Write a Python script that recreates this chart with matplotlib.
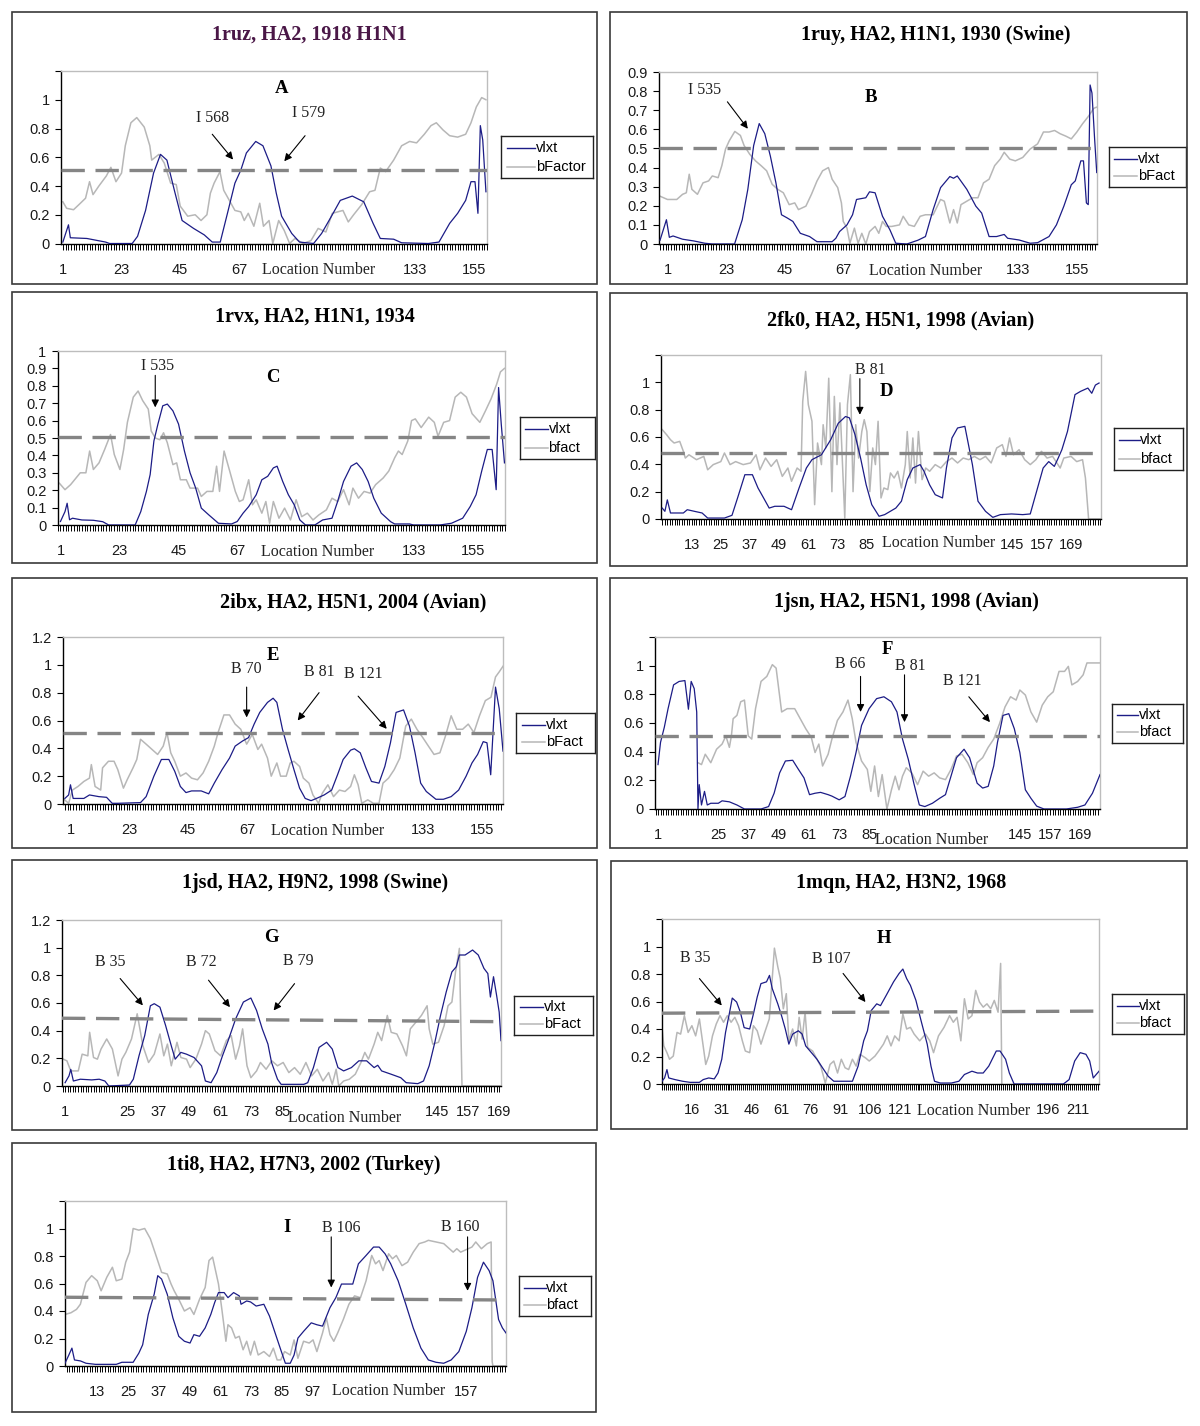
import matplotlib
matplotlib.use("Agg")
import matplotlib.pyplot as plt
from matplotlib.patches import Rectangle
from matplotlib.ticker import MultipleLocator, FixedLocator

# ---------------- datos ----------------
# Panel A: 1ruz
A_vlxt_x = [1, 3.1, 3.8, 10, 17, 18.5, 27, 29, 32, 35, 37.6, 40, 42.8, 45.7, 50, 54, 57, 60, 62.7, 65.5, 67.7, 69.8, 73.3, 76, 79, 81, 83, 86.8, 89.7, 95, 98, 101.7, 105, 109.5, 113.8, 117.3, 120, 125, 128, 138, 142, 146, 149, 152, 154, 155.5, 156.6, 157.5, 158.4, 159.6]
A_vlxt_y = [0.01, 0.13, 0.04, 0.035, 0.01, 0, 0, 0.05, 0.23, 0.49, 0.62, 0.58, 0.37, 0.16, 0.105, 0.06, 0.01, 0.01, 0.21, 0.42, 0.51, 0.63, 0.71, 0.68, 0.54, 0.35, 0.19, 0.07, 0.01, 0, 0.07, 0.19, 0.30, 0.33, 0.29, 0.14, 0.035, 0.03, 0.005, 0, 0.01, 0.14, 0.21, 0.30, 0.43, 0.43, 0.21, 0.82, 0.72, 0.36]
A_bf_x = [1, 2.4, 5, 7, 9.5, 11, 12.3, 14.5, 17.3, 19, 20.9, 23, 24.4, 26.5, 28.7, 31.5, 33.6, 34.3, 37, 39, 41.4, 43.5, 45, 47.8, 50.6, 52.8, 55, 56.3, 57.7, 59.9, 61.3, 63.4, 65.5, 67.7, 69, 70.5, 72.6, 74.8, 76.2, 78.3, 79.7, 81.9, 84, 86, 88, 91, 94, 96.7, 99.6, 102, 106, 108, 110, 113, 116, 118, 120, 122, 125, 128, 131, 133.6, 136.5, 139, 141, 143.5, 146, 149, 152, 154, 156, 158, 159.6]
A_bf_y = [0.29, 0.245, 0.235, 0.27, 0.315, 0.43, 0.34, 0.40, 0.47, 0.53, 0.43, 0.49, 0.68, 0.84, 0.876, 0.81, 0.68, 0.58, 0.62, 0.56, 0.42, 0.41, 0.26, 0.19, 0.20, 0.16, 0.20, 0.35, 0.42, 0.50, 0.37, 0.30, 0.23, 0.22, 0.16, 0.21, 0.12, 0.28, 0.12, 0.16, 0.0, 0.16, 0.09, 0.0, 0.035, 0, 0.02, 0.105, 0.08, 0.21, 0.23, 0.15, 0.20, 0.27, 0.36, 0.37, 0.525, 0.50, 0.58, 0.68, 0.71, 0.70, 0.76, 0.82, 0.84, 0.79, 0.75, 0.74, 0.76, 0.84, 0.95, 1.015, 1.0]

# Panel B: 1ruy
B_vlxt_x = [-2.1, 0.3, 1.4, 2.8, 6.4, 10.6, 14.8, 17.6, 26, 28.9, 31, 33.2, 35.3, 37.4, 39.5, 41.6, 43.7, 45.9, 48, 50.8, 54.3, 57.1, 62.8, 64.2, 65.6, 68.4, 70.5, 72, 75.5, 76.9, 79, 81.8, 84.6, 86.8, 91, 95.2, 98, 100.9, 103.7, 107.2, 108.6, 110, 113.6, 117, 119.2, 122, 124.8, 127.7, 129, 133.3, 137.5, 140.3, 144.6, 147.4, 150.2, 153, 154.5, 156.6, 157.6, 158.7, 159.4, 160.1, 160.8, 161.8, 162.6]
B_vlxt_y = [0.02, 0.127, 0.035, 0.042, 0.025, 0.016, 0.004, 0, 0, 0.127, 0.286, 0.515, 0.63, 0.577, 0.46, 0.32, 0.153, 0.136, 0.118, 0.056, 0.039, 0.012, 0.012, 0.03, 0.065, 0.10, 0.153, 0.233, 0.242, 0.273, 0.268, 0.145, 0.074, 0.004, 0, 0.02, 0.039, 0.18, 0.295, 0.353, 0.344, 0.356, 0.286, 0.198, 0.162, 0.039, 0.039, 0.05, 0.03, 0.021, 0.004, 0.007, 0.039, 0.10, 0.198, 0.31, 0.33, 0.435, 0.435, 0.215, 0.206, 0.832, 0.79, 0.55, 0.374]
B_bf_x = [-2.1, 0.7, 4.2, 6.4, 7.8, 8.9, 9.9, 12, 14.1, 16.2, 17.6, 19.8, 21.2, 22.6, 24, 26.1, 28.2, 29.6, 31.7, 33.9, 36, 38.1, 40.2, 42.3, 44.4, 46.6, 48.7, 50.1, 52.9, 55, 57.1, 59.2, 61.4, 62.8, 64.9, 66.3, 67, 68.4, 69.5, 71.2, 72.6, 74, 75.5, 76.9, 79, 80.4, 81.8, 83.2, 85.3, 88.2, 89.6, 91.7, 93.8, 96, 98, 100.9, 103.7, 105.1, 107.2, 108.6, 110, 111.4, 113.6, 115.8, 117.8, 119.9, 122, 124.1, 126.2, 127.7, 129.8, 131.9, 134.7, 137.5, 140.3, 142.5, 144.6, 146.7, 148.8, 151, 153, 155.1, 157.3, 159.3, 161.5, 162.9]
B_bf_y = [0.25, 0.233, 0.233, 0.26, 0.268, 0.365, 0.286, 0.26, 0.32, 0.33, 0.356, 0.347, 0.41, 0.497, 0.54, 0.589, 0.568, 0.515, 0.47, 0.435, 0.41, 0.383, 0.312, 0.286, 0.268, 0.206, 0.215, 0.18, 0.198, 0.26, 0.33, 0.383, 0.40, 0.339, 0.295, 0.215, 0.118, 0.083, 0.004, 0.083, 0.004, 0.056, 0, 0.065, 0.092, 0.056, 0.118, 0.092, 0.092, 0.10, 0.145, 0.10, 0.092, 0.145, 0.153, 0.153, 0.233, 0.224, 0.11, 0.18, 0.11, 0.206, 0.224, 0.242, 0.242, 0.32, 0.339, 0.41, 0.444, 0.48, 0.444, 0.435, 0.453, 0.497, 0.524, 0.586, 0.586, 0.594, 0.577, 0.564, 0.55, 0.586, 0.63, 0.665, 0.71, 0.718]

# Panel C: 1rvx
C_vlxt_x = [1, 2.7, 3.5, 4.4, 5.5, 9, 13.3, 16.8, 19, 28.9, 31, 33.1, 34.5, 35.9, 37.4, 39.2, 40.9, 43, 45.1, 47.3, 49.4, 51.5, 53.6, 56.4, 60, 64.9, 67, 69.2, 71.3, 74.1, 76.2, 78.4, 80.5, 81.9, 84, 86.1, 88.3, 90.4, 92.5, 96, 98.9, 102.4, 104.5, 106.7, 109.5, 111.6, 113.7, 115.9, 118, 120.8, 124.3, 125.8, 131.4, 132.8, 142.7, 147, 151.2, 154, 156.2, 158.3, 160.4, 162.2, 163.7, 164.6, 165.6, 166.8]
C_vlxt_y = [0.02, 0.077, 0.125, 0.03, 0.039, 0.029, 0.027, 0.019, 0, 0, 0.077, 0.193, 0.29, 0.483, 0.58, 0.685, 0.695, 0.656, 0.58, 0.425, 0.30, 0.212, 0.097, 0.058, 0.01, 0.006, 0.02, 0.068, 0.106, 0.174, 0.26, 0.28, 0.328, 0.338, 0.25, 0.174, 0.116, 0.029, 0, 0, 0.029, 0.039, 0.135, 0.25, 0.338, 0.357, 0.319, 0.25, 0.154, 0.068, 0.019, 0.006, 0.006, 0, 0, 0.01, 0.039, 0.106, 0.174, 0.31, 0.434, 0.434, 0.203, 0.79, 0.58, 0.357]
C_bf_x = [0.6, 2.7, 4.8, 8.4, 10.5, 11.9, 13.3, 15.4, 17.5, 19.7, 21.1, 23.2, 24.6, 26, 28.2, 30, 31.7, 33.8, 34.9, 36.4, 38.1, 39.5, 40.9, 43, 44.4, 45.8, 48, 49.4, 52.2, 53.6, 55.7, 57.9, 59.3, 60.4, 62.1, 64.2, 66.3, 67.8, 69.2, 71.3, 72.7, 74.1, 76.2, 77.7, 79.1, 80.5, 82.6, 84.7, 86.9, 89, 91.1, 93.2, 95.3, 97.5, 100.3, 102.4, 104.5, 106.7, 108.8, 110.2, 112.3, 114.4, 116.6, 118.7, 121.5, 123.6, 125.8, 127.2, 128.6, 130.7, 132.1, 133.5, 135.7, 138.5, 140.6, 142, 144.1, 146.3, 148.4, 150.5, 152.6, 154.7, 157.6, 159.7, 161.8, 163.9, 165.3, 166.8]
C_bf_y = [0.24, 0.203, 0.232, 0.30, 0.30, 0.425, 0.319, 0.357, 0.434, 0.52, 0.405, 0.319, 0.434, 0.59, 0.735, 0.77, 0.715, 0.666, 0.54, 0.50, 0.49, 0.53, 0.473, 0.347, 0.357, 0.26, 0.26, 0.212, 0.212, 0.164, 0.193, 0.193, 0.338, 0.193, 0.425, 0.31, 0.193, 0.135, 0.145, 0.26, 0.116, 0.145, 0.068, 0.135, 0.01, 0.135, 0.039, 0.097, 0.029, 0.145, 0.048, 0.068, 0.029, 0.058, 0.087, 0.154, 0.135, 0.203, 0.116, 0.212, 0.154, 0.193, 0.183, 0.232, 0.27, 0.31, 0.386, 0.425, 0.405, 0.483, 0.60, 0.61, 0.56, 0.62, 0.59, 0.51, 0.59, 0.60, 0.735, 0.763, 0.735, 0.64, 0.59, 0.656, 0.725, 0.81, 0.88, 0.90]

# Panel D: 2fk0
D_vlxt_x = [0.9, 2, 3, 4.3, 7.3, 9.6, 11.2, 14.2, 17.3, 19.6, 21.9, 26.5, 29.6, 31.9, 34.9, 38, 40.3, 42.6, 44.9, 47.2, 51, 54.1, 57.2, 60.2, 62.5, 66.4, 70.2, 73.3, 76.3, 77.9, 80.2, 82.5, 84.8, 87.1, 90.1, 92.4, 97, 99.3, 101.7, 104, 107, 108.6, 110.9, 113.2, 116.2, 117.8, 120.1, 122.4, 125.4, 128.5, 130.8, 133.9, 136.9, 140, 144.6, 149.2, 152.3, 155.3, 157.6, 159.9, 162.2, 163.8, 165.3, 167.6, 170.7, 173, 176, 177.6, 179.1, 180.6]
D_vlxt_y = [0.08, 0.056, 0.14, 0.044, 0.044, 0.044, 0.068, 0.056, 0.044, 0.007, 0.007, 0.007, 0.027, 0.154, 0.324, 0.324, 0.227, 0.154, 0.08, 0.093, 0.093, 0.068, 0.227, 0.373, 0.434, 0.47, 0.58, 0.70, 0.75, 0.74, 0.617, 0.446, 0.25, 0.105, 0.02, 0.032, 0.08, 0.13, 0.288, 0.373, 0.398, 0.349, 0.25, 0.178, 0.154, 0.373, 0.593, 0.666, 0.678, 0.398, 0.13, 0.056, 0.012, 0.032, 0.037, 0.032, 0.037, 0.227, 0.373, 0.42, 0.385, 0.446, 0.507, 0.64, 0.91, 0.934, 0.958, 0.92, 0.98, 0.995]
D_bf_x = [0.9, 2.7, 4.3, 5.8, 8.1, 9.6, 10.4, 11.9, 15, 18, 19.6, 21.9, 25, 26.5, 28.8, 31.1, 34.2, 37.2, 39.5, 41.1, 43.4, 45.7, 48, 50.3, 52.6, 54.1, 56.4, 58, 58.7, 59.9, 61, 62.5, 63.6, 64.8, 66.4, 67.1, 68.2, 69.4, 70.7, 71.7, 72.8, 74, 75.3, 76, 77.1, 78.3, 79.4, 80.5, 81.7, 83, 84, 85.1, 86.3, 87.5, 88.6, 89.7, 90.9, 92.1, 93.7, 94.8, 96.3, 97.8, 99.3, 100.9, 101.7, 102.9, 104, 105.1, 106.3, 107.8, 109.3, 110.9, 113.2, 115.5, 117.8, 120.1, 122.4, 124.7, 127, 129.3, 131.6, 133.9, 136.2, 138.5, 140.8, 142.3, 143.8, 145.4, 147.7, 150, 152.3, 154.6, 156.9, 159.2, 161.5, 164.6, 166.1, 169.1, 171.4, 173.8, 175, 176.3, 181.4]
D_bf_y = [0.654, 0.617, 0.58, 0.556, 0.568, 0.495, 0.446, 0.47, 0.434, 0.458, 0.36, 0.398, 0.42, 0.483, 0.398, 0.42, 0.398, 0.41, 0.47, 0.36, 0.446, 0.385, 0.434, 0.312, 0.373, 0.276, 0.373, 0.349, 0.86, 1.08, 0.837, 0.715, 0.105, 0.556, 0.398, 0.69, 0.52, 1.03, 0.2, 0.897, 0.398, 0.85, 0.30, 0.007, 0.837, 1.056, 0.2, 0.69, 0.446, 0.64, 0.727, 0.64, 0.2, 0.52, 0.398, 0.715, 0.154, 0.227, 0.215, 0.337, 0.30, 0.349, 0.227, 0.398, 0.64, 0.30, 0.593, 0.263, 0.64, 0.288, 0.373, 0.349, 0.398, 0.373, 0.42, 0.446, 0.41, 0.446, 0.434, 0.458, 0.434, 0.458, 0.41, 0.52, 0.544, 0.458, 0.593, 0.47, 0.507, 0.434, 0.398, 0.434, 0.495, 0.446, 0.458, 0.373, 0.446, 0.458, 0.42, 0.434, 0.30, 0, 0]

# Panel E: 2ibx
E_vlxt_x = [-1.1, 0.3, 1, 2, 6, 8.1, 11.6, 14.5, 16.6, 18.7, 27.2, 29.3, 32.2, 35, 37.8, 40, 42.1, 44.2, 46.3, 49.9, 52.7, 54.8, 57.7, 60.5, 62.6, 65.4, 67.6, 69.7, 71.8, 74.7, 76.8, 78.2, 80.3, 82.4, 84.6, 86.7, 88.8, 91, 93, 95.9, 98.7, 100.9, 103, 105.8, 107.2, 109.4, 111.5, 113.6, 116.4, 118.6, 120.7, 122.8, 125.6, 127.8, 129.9, 132, 134.1, 137.7, 140.5, 143.4, 146.2, 149, 151.2, 153.3, 155.4, 156.8, 158.2, 160, 161.4, 162.8]
E_vlxt_y = [0.04, 0.065, 0.138, 0.04, 0.04, 0.065, 0.053, 0.048, 0.005, 0.005, 0.01, 0.053, 0.2, 0.32, 0.32, 0.235, 0.126, 0.082, 0.094, 0.094, 0.073, 0.15, 0.247, 0.33, 0.416, 0.453, 0.477, 0.574, 0.658, 0.73, 0.76, 0.73, 0.537, 0.392, 0.247, 0.114, 0.04, 0.024, 0.04, 0.065, 0.1, 0.21, 0.32, 0.387, 0.397, 0.368, 0.26, 0.162, 0.15, 0.27, 0.44, 0.658, 0.676, 0.56, 0.368, 0.15, 0.09, 0.034, 0.034, 0.053, 0.1, 0.2, 0.295, 0.356, 0.448, 0.44, 0.21, 0.84, 0.683, 0.38]
E_bf_x = [-1.8, 0.3, 1.7, 3.8, 6, 8.1, 8.8, 10.2, 12.3, 13, 15.2, 17.3, 18.7, 20.8, 22.2, 24.4, 25.8, 27.2, 29.3, 31.5, 33.6, 35.7, 37.1, 38.5, 40, 42.1, 44.2, 46.3, 48.5, 50.6, 52.7, 54.8, 56.2, 58.4, 60.5, 62.6, 64.7, 66.9, 69, 71.1, 72.5, 74.7, 76.1, 78.2, 79.6, 81.7, 83.2, 84.6, 86.7, 88.1, 90.2, 91.7, 93.8, 95.2, 97.3, 99.4, 101.6, 103.7, 105.8, 107.2, 108.6, 110, 112.2, 114.3, 116.4, 117.9, 120, 122.1, 124.2, 126.4, 128.5, 130.6, 132.8, 134.9, 137, 139.2, 141.3, 143.4, 145.5, 147.7, 149.8, 151.9, 154, 156.2, 158.3, 160, 161.4, 163.1]
E_bf_y = [0.04, 0.005, 0.1, 0.126, 0.162, 0.186, 0.283, 0.126, 0.1, 0.26, 0.307, 0.307, 0.247, 0.114, 0.174, 0.26, 0.32, 0.465, 0.43, 0.392, 0.356, 0.416, 0.513, 0.368, 0.307, 0.2, 0.223, 0.186, 0.174, 0.223, 0.307, 0.416, 0.513, 0.64, 0.64, 0.574, 0.537, 0.43, 0.5, 0.392, 0.43, 0.33, 0.2, 0.295, 0.2, 0.2, 0.295, 0.307, 0.27, 0.186, 0.15, 0.065, 0.005, 0.077, 0.138, 0.053, 0.1, 0.09, 0.126, 0.21, 0.138, 0.005, 0.03, 0.005, 0.005, 0.15, 0.186, 0.247, 0.33, 0.56, 0.61, 0.537, 0.477, 0.416, 0.356, 0.368, 0.49, 0.634, 0.537, 0.537, 0.574, 0.513, 0.634, 0.743, 0.767, 0.913, 0.95, 0.998]

# Panel F: 1jsn
F_vlxt_x = [1, 2, 3.5, 5, 7.2, 9.4, 11.7, 13.1, 14.2, 15.4, 16.4, 16.9, 17.4, 18.3, 19.5, 20.6, 22, 25, 26.5, 29.4, 32.4, 35.4, 42, 45, 47.2, 49.4, 51.7, 54.6, 56.9, 59.1, 61.3, 63.5, 65.7, 68.7, 70.2, 73.1, 75.4, 77.6, 79.8, 82, 85, 88, 90.9, 93.9, 96.1, 98.3, 100.6, 102.8, 105, 107.2, 110.2, 113.1, 115.4, 117.6, 119.8, 122.8, 125, 128, 130.2, 132.4, 134.6, 136.1, 138.3, 140.6, 142.8, 145, 147.2, 149.4, 151.7, 154.6, 163.5, 168, 170.9, 173.9, 176.9]
F_vlxt_y = [0.31, 0.465, 0.57, 0.70, 0.866, 0.89, 0.896, 0.696, 0.89, 0.84, 0.677, 0, 0.17, 0.028, 0.123, 0.028, 0.04, 0.04, 0.057, 0.05, 0.028, 0, 0, 0.017, 0.11, 0.252, 0.335, 0.34, 0.276, 0.217, 0.1, 0.11, 0.116, 0.1, 0.09, 0.064, 0.087, 0.229, 0.394, 0.583, 0.70, 0.77, 0.783, 0.748, 0.677, 0.488, 0.347, 0.18, 0.028, 0.017, 0.04, 0.075, 0.1, 0.229, 0.358, 0.417, 0.358, 0.18, 0.146, 0.158, 0.3, 0.465, 0.653, 0.665, 0.56, 0.394, 0.134, 0.075, 0.02, 0, 0, 0.012, 0.028, 0.11, 0.24]
F_bf_x = [16.9, 18.3, 19.8, 22, 24.3, 26.5, 28, 29.4, 30.2, 30.9, 32.4, 33.9, 35.4, 36.9, 38.3, 39.8, 42, 44.3, 46.5, 48, 50.2, 52.4, 55.4, 57.6, 59.8, 62, 63.5, 65, 66.5, 68.7, 70.2, 72.4, 74.6, 76.6, 78.3, 79.8, 82, 84.3, 85.7, 87.2, 88.7, 90.2, 92.1, 93.9, 95.4, 96.9, 98.3, 99.8, 102, 104.3, 106.5, 108.7, 110.9, 113.1, 115.4, 117.6, 119.8, 122, 124.3, 126.5, 128, 130.2, 132.4, 134.6, 136.9, 139.1, 141.3, 143.5, 145, 147.2, 149.4, 151.7, 153.9, 156.1, 158.3, 160.6, 162.8, 164.3, 165.7, 168, 170.2, 171.7, 176.9]
F_bf_y = [0.323, 0.31, 0.382, 0.323, 0.417, 0.453, 0.51, 0.43, 0.51, 0.63, 0.653, 0.748, 0.76, 0.51, 0.488, 0.7, 0.89, 0.925, 1.007, 0.983, 0.677, 0.70, 0.70, 0.63, 0.56, 0.5, 0.394, 0.453, 0.3, 0.382, 0.488, 0.618, 0.677, 0.76, 0.63, 0.465, 0.335, 0.276, 0.123, 0.3, 0.087, 0.24, 0, 0.134, 0.229, 0.134, 0.229, 0.288, 0.252, 0.17, 0.264, 0.229, 0.252, 0.217, 0.205, 0.276, 0.37, 0.382, 0.323, 0.24, 0.323, 0.358, 0.43, 0.488, 0.594, 0.712, 0.783, 0.76, 0.83, 0.795, 0.677, 0.606, 0.724, 0.783, 0.818, 0.96, 0.96, 0.995, 0.866, 0.89, 0.936, 1.019, 1.019]

# Panel G: 1jsd
G_vlxt_x = [1, 2.5, 3.2, 4.2, 6.9, 11.3, 14.2, 16.4, 17.9, 25.9, 27.4, 29.6, 31.8, 34, 35.5, 37.7, 39.9, 42.1, 43.6, 45.8, 48, 50.9, 53.8, 55.3, 57.5, 59.7, 61.9, 64.1, 67, 70, 72.9, 75.1, 77.3, 79.5, 80.9, 83.2, 84.6, 89, 93.4, 94.9, 97.1, 99.3, 102.2, 104.4, 106.6, 108.8, 111.8, 114.7, 117.7, 120.6, 122, 123.5, 127.2, 130.9, 133, 137.5, 139.7, 141.9, 144.1, 146.3, 148.5, 150.7, 152.4, 153.6, 155.8, 158.7, 160.9, 163.1, 164.6, 165.6, 166.8, 168, 169, 169.7]
G_vlxt_y = [0.024, 0.073, 0.12, 0.036, 0.049, 0.044, 0.049, 0.036, 0, 0.007, 0.049, 0.218, 0.364, 0.58, 0.595, 0.57, 0.437, 0.29, 0.194, 0.243, 0.23, 0.206, 0.146, 0.036, 0.024, 0.097, 0.218, 0.328, 0.485, 0.607, 0.636, 0.546, 0.413, 0.303, 0.17, 0.049, 0.012, 0.012, 0.012, 0.024, 0.133, 0.279, 0.316, 0.267, 0.133, 0.109, 0.133, 0.182, 0.182, 0.133, 0.15, 0.109, 0.085, 0.06, 0.024, 0.017, 0.036, 0.146, 0.316, 0.51, 0.68, 0.825, 0.862, 0.947, 0.947, 0.983, 0.947, 0.85, 0.813, 0.643, 0.79, 0.655, 0.534, 0.328]
G_bf_x = [0.3, 1.7, 3.2, 6.1, 7.6, 9.8, 10.5, 12, 13.5, 14.9, 17.1, 19.3, 21.5, 23, 24.5, 26.7, 28.9, 31.1, 33.3, 35.5, 37.7, 39.2, 40.6, 42.1, 44.3, 45.8, 48, 49.4, 51.6, 53.8, 55.3, 56.8, 59, 61.2, 63.4, 65.3, 67, 68.5, 69.7, 71.4, 72.9, 75.1, 76.6, 78.8, 81, 83.2, 85.4, 87.6, 89.8, 92, 94.2, 96.4, 98.6, 100.8, 103, 104.4, 105.9, 106.9, 108.8, 111, 113.3, 115.5, 117, 118.4, 120.6, 122, 123.5, 125.7, 127.2, 129.4, 131.6, 133.1, 134.6, 136.7, 138.9, 141.1, 141.9, 143.3, 145.5, 147.7, 149.2, 150.7, 152.1, 153.6, 154.6, 169.7]
G_bf_y = [0.194, 0.182, 0.109, 0.109, 0.23, 0.218, 0.388, 0.206, 0.194, 0.267, 0.34, 0.267, 0.073, 0.194, 0.243, 0.34, 0.522, 0.291, 0.17, 0.23, 0.376, 0.218, 0.303, 0.146, 0.316, 0.206, 0.194, 0.133, 0.194, 0.303, 0.4, 0.376, 0.255, 0.218, 0.328, 0.364, 0.194, 0.29, 0.413, 0.146, 0.06, 0.109, 0.17, 0.121, 0.182, 0.146, 0.17, 0.097, 0.133, 0.085, 0.17, 0.073, 0.121, 0.036, 0.097, 0.012, 0.121, 0, 0.036, 0.049, 0.085, 0.17, 0.243, 0.194, 0.303, 0.388, 0.328, 0.51, 0.388, 0.376, 0.29, 0.218, 0.413, 0.46, 0.51, 0.58, 0.413, 0.303, 0.316, 0.437, 0.58, 0.607, 0.825, 0.995, 0, 0]

# Panel H: 1mqn
H_vlxt_x = [0.9, 2.2, 3.4, 4.3, 7.5, 11.3, 15.1, 19.8, 21.7, 24.5, 27.3, 29.2, 31.1, 33, 34.9, 36.4, 38.6, 40.5, 42.4, 45.2, 47.1, 49, 50.9, 53.7, 55.2, 56.6, 59.4, 61.3, 63.2, 65, 66.9, 69.8, 71.7, 73.5, 76.4, 79.2, 82, 84.9, 87.7, 92.4, 97.1, 100, 102.8, 104.7, 106.6, 109.4, 111.3, 114.2, 117.9, 120.7, 122.6, 124.5, 126.4, 129.2, 132, 134.9, 136.8, 138.6, 141.5, 147.1, 150.9, 153.7, 157.5, 160.3, 163.2, 166, 169.8, 171.7, 174.5, 176.4, 178.8, 203.7, 206.6, 209.4, 212.2, 215.1, 217, 218.8, 221.7]
H_vlxt_y = [0.02, 0.044, 0.105, 0.044, 0.032, 0.02, 0.012, 0.012, 0.032, 0.044, 0.037, 0.08, 0.18, 0.375, 0.51, 0.625, 0.596, 0.522, 0.41, 0.4, 0.51, 0.632, 0.73, 0.743, 0.79, 0.694, 0.583, 0.497, 0.4, 0.29, 0.363, 0.387, 0.363, 0.277, 0.228, 0.18, 0.118, 0.056, 0.02, 0.02, 0.02, 0.13, 0.314, 0.387, 0.534, 0.583, 0.57, 0.645, 0.743, 0.804, 0.836, 0.767, 0.718, 0.608, 0.449, 0.29, 0.13, 0.02, 0.007, 0.007, 0.02, 0.069, 0.093, 0.08, 0.08, 0.13, 0.24, 0.24, 0.18, 0.08, 0, 0, 0.032, 0.167, 0.228, 0.216, 0.167, 0.044, 0.093]
H_bf_x = [0.9, 1.8, 3.4, 4.7, 6.6, 8.5, 10.3, 12.2, 14.1, 16, 17.9, 19.8, 21.7, 23, 24.5, 26.4, 28.3, 30.2, 32, 33.9, 35.8, 37.7, 39.6, 41.5, 43, 45.2, 47.1, 49, 50.9, 52.8, 55.1, 56.6, 57.7, 59.4, 60.7, 62.2, 63.7, 65, 66.9, 68.8, 70.2, 71.7, 73.2, 74.5, 77, 79.2, 81.1, 83.4, 85.8, 87.7, 89.6, 91.5, 93.4, 95.2, 97.1, 99, 100.9, 103.7, 105.6, 108.5, 110.4, 112.8, 114.7, 116.6, 118.5, 120.7, 122.6, 124.5, 126.4, 128.3, 131.1, 134, 136.2, 138.1, 140.6, 143.4, 146.2, 148.1, 150, 151.9, 153.7, 155.6, 157.5, 159.4, 161.3, 163.2, 165.1, 167, 168.8, 170.7, 172, 172.6]
H_bf_y = [0.41, 0.277, 0.228, 0.18, 0.203, 0.375, 0.363, 0.497, 0.375, 0.424, 0.35, 0.473, 0.277, 0.142, 0.203, 0.35, 0.436, 0.497, 0.449, 0.497, 0.449, 0.485, 0.424, 0.314, 0.24, 0.228, 0.424, 0.387, 0.29, 0.375, 0.473, 0.767, 0.988, 0.853, 0.767, 0.547, 0.657, 0.314, 0.4, 0.277, 0.485, 0.326, 0.522, 0.265, 0.24, 0.18, 0.13, 0.007, 0.142, 0.167, 0.08, 0.18, 0.118, 0.105, 0.18, 0.13, 0.216, 0.19, 0.167, 0.203, 0.24, 0.29, 0.35, 0.277, 0.35, 0.314, 0.51, 0.4, 0.412, 0.363, 0.314, 0.363, 0.314, 0.228, 0.35, 0.412, 0.497, 0.449, 0.485, 0.314, 0.62, 0.473, 0.497, 0.681, 0.596, 0.559, 0.583, 0.547, 0.608, 0.522, 0.877, 0]

# Panel I: 1ti8
I_vlxt_x = [0.4, 1.9, 3.1, 4.1, 6.4, 8.6, 12.3, 15.2, 18.2, 20.4, 22.6, 27, 29.2, 30.7, 32.9, 35.2, 36.6, 38.1, 40.3, 42.5, 44.8, 47, 49.2, 50.7, 52.9, 55.1, 57.3, 58.8, 60.3, 62.5, 64, 66.2, 68.4, 69.1, 71.3, 72.8, 75, 78, 80.2, 82.4, 84.6, 86.4, 88.3, 89.8, 91.3, 93.5, 96.5, 98.7, 100.9, 103.8, 106.1, 108.3, 110.5, 112.7, 114.9, 117.9, 120.8, 123, 125.3, 127.5, 130.4, 133.4, 136.3, 139.3, 142.2, 145.2, 148.2, 151.1, 154.1, 157, 159.2, 161.4, 163.7, 165.9, 167.4, 169.6, 171.1, 172.5]
I_vlxt_y = [0.02, 0.08, 0.13, 0.044, 0.037, 0.02, 0.012, 0.012, 0.012, 0.012, 0.027, 0.027, 0.093, 0.154, 0.375, 0.522, 0.657, 0.632, 0.522, 0.35, 0.216, 0.18, 0.167, 0.228, 0.216, 0.277, 0.375, 0.461, 0.534, 0.534, 0.497, 0.534, 0.51, 0.449, 0.473, 0.466, 0.436, 0.449, 0.363, 0.24, 0.118, 0.02, 0.02, 0.08, 0.203, 0.252, 0.314, 0.3, 0.29, 0.424, 0.497, 0.596, 0.596, 0.596, 0.743, 0.804, 0.865, 0.865, 0.816, 0.743, 0.62, 0.449, 0.277, 0.13, 0.044, 0.027, 0.02, 0.044, 0.105, 0.252, 0.424, 0.645, 0.755, 0.694, 0.62, 0.338, 0.277, 0.24]
I_bf_x = [0.4, 2.7, 4.9, 6.4, 8.6, 10.8, 13, 14.5, 16.7, 18.9, 20.4, 22.6, 24.1, 25.6, 27, 29.2, 31.5, 33.7, 35.9, 38.1, 40.3, 41.8, 43, 44.8, 47, 49.2, 50.7, 52.9, 55.1, 56.6, 58, 60.3, 61.7, 63.2, 64, 65.4, 66.9, 68.4, 69.9, 71.3, 72.8, 74.3, 75.8, 78, 80.2, 81.7, 83.2, 84.6, 86.1, 88.3, 89.8, 91.3, 93.5, 95.7, 97.2, 98.7, 100.9, 102.4, 103.8, 105.3, 106.8, 109, 111.2, 113.4, 115.7, 117.9, 120.1, 121.6, 123, 124.5, 126.7, 128.2, 129.7, 131.9, 134.1, 136.3, 138.6, 140.8, 142.2, 145.2, 148.2, 150.4, 151.9, 153.3, 154.8, 159.2, 160.7, 162.9, 165.2, 166.7, 167.1, 167.4, 172.5]
I_bf_y = [0.375, 0.387, 0.412, 0.449, 0.608, 0.657, 0.62, 0.547, 0.645, 0.718, 0.62, 0.632, 0.755, 0.828, 1.0, 0.988, 1.0, 0.926, 0.804, 0.681, 0.669, 0.596, 0.547, 0.485, 0.4, 0.424, 0.375, 0.485, 0.571, 0.767, 0.792, 0.596, 0.4, 0.18, 0.3, 0.277, 0.203, 0.216, 0.118, 0.18, 0.08, 0.18, 0.08, 0.105, 0.069, 0.13, 0.044, 0.044, 0.105, 0.08, 0.19, 0.056, 0.18, 0.167, 0.19, 0.105, 0.24, 0.35, 0.228, 0.18, 0.24, 0.338, 0.449, 0.51, 0.497, 0.62, 0.804, 0.743, 0.767, 0.694, 0.816, 0.78, 0.804, 0.73, 0.755, 0.828, 0.89, 0.902, 0.914, 0.902, 0.89, 0.853, 0.828, 0.853, 0.828, 0.865, 0.902, 0.853, 0.89, 0.902, 0.032, 0, 0]

titles = ["1ruz, HA2, 1918 H1N1", "1ruy, HA2, H1N1, 1930 (Swine)", "1rvx, HA2, H1N1, 1934",
          "2fk0, HA2, H5N1, 1998 (Avian)", "2ibx, HA2, H5N1, 2004 (Avian)", "1jsn, HA2, H5N1, 1998 (Avian)",
          "1jsd, HA2, H9N2, 1998 (Swine)", "1mqn, HA2, H3N2, 1968", "1ti8, HA2, H7N3, 2002 (Turkey)"]
letters = ["A", "B", "C", "D", "E", "F", "G", "H", "I"]
bf_names = ["bFactor", "bFact", "bfact", "bfact", "bFact", "bfact", "bFact", "bfact", "bfact"]
thresholds = [(0.51, 0.51), (0.5, 0.5), (0.505, 0.505), (0.48, 0.48), (0.51, 0.51),
              (0.51, 0.51), (0.49, 0.465), (0.515, 0.53), (0.5, 0.48)]
xtick_labels = [[1, 23, 45, 67, 133, 155], [1, 23, 45, 67, 133, 155], [1, 23, 45, 67, 133, 155],
                [13, 25, 37, 49, 61, 73, 85, 145, 157, 169], [1, 23, 45, 67, 133, 155],
                [1, 25, 37, 49, 61, 73, 85, 145, 157, 169], [1, 25, 37, 49, 61, 73, 85, 145, 157, 169],
                [16, 31, 46, 61, 76, 91, 106, 121, 196, 211], [13, 25, 37, 49, 61, 73, 85, 97, 157]]
# marcas de residuos: (texto, posicion del texto, inicio flecha, punta flecha)
marks = [
    [("I 568", (57, 0.876), (57, 0.76), (64.8, 0.584)), ("I 579", (93.2, 0.91), (91.8, 0.75), (84, 0.572))],
    [("I 535", (14.8, 0.806), (23.3, 0.744), (31, 0.603))],
    [("I 535", (37.4, 0.914), (36.4, 0.86), (36.4, 0.676))],
    [("B 81", (86.3, 1.093), (82.2, 1.027), (82.2, 0.763))],
    [("B 70", (66.9, 0.968), (66.9, 0.84), (66.9, 0.622)), ("B 81", (94, 0.949), (94, 0.8), (86, 0.6)),
     ("B 121", (110.5, 0.936), (108.6, 0.775), (119.3, 0.54))],
    [("B 66", (77.6, 1.01), (81.6, 0.925), (81.6, 0.677)), ("B 81", (101.6, 0.995), (99.1, 0.936), (99.1, 0.606)),
     ("B 121", (122, 0.894), (124.7, 0.783), (133.1, 0.606))],
    [("B 35", (18.3, 0.898), (22.3, 0.777), (31.1, 0.583)), ("B 72", (53.8, 0.893), (56.5, 0.765), (64.8, 0.57)),
     ("B 79", (91.2, 0.903), (89.8, 0.74), (81.7, 0.546))],
    [("B 35", (17.5, 0.92), (19.8, 0.767), (31.1, 0.571)), ("B 107", (86.4, 0.907), (92.4, 0.804), (103.7, 0.596))],
    [("B 106", (108.3, 1.007), (104.3, 0.939), (104.3, 0.571)), ("B 160", (154.5, 1.012), (157.5, 0.939), (157.5, 0.547))],
]
letter_pos = [(82.8, 1.08), (77.6, 0.767), (80.5, 0.85), (93.2, 0.934), (76.8, 1.07),
              (92.4, 1.113), (81, 1.073), (112.8, 1.06), (87.2, 1.01)]

series = [(A_vlxt_x, A_vlxt_y, A_bf_x, A_bf_y), (B_vlxt_x, B_vlxt_y, B_bf_x, B_bf_y),
          (C_vlxt_x, C_vlxt_y, C_bf_x, C_bf_y), (D_vlxt_x, D_vlxt_y, D_bf_x, D_bf_y),
          (E_vlxt_x, E_vlxt_y, E_bf_x, E_bf_y), (F_vlxt_x, F_vlxt_y, F_bf_x, F_bf_y),
          (G_vlxt_x, G_vlxt_y, G_bf_x, G_bf_y), (H_vlxt_x, H_vlxt_y, H_bf_x, H_bf_y),
          (I_vlxt_x, I_vlxt_y, I_bf_x, I_bf_y)]

# ---------------- disposicion (pixeles de la imagen 1200x1426) ----------------
W, H = 1200, 1426
# marco, ejes, leyenda (izq, arriba, der, abajo), centro del titulo, desplazamiento de "Location Number" (px)
layout = [
    dict(frame=(12, 12, 597, 284), axes=(61, 71, 487, 243.5), leg=(501, 136, 593, 178), title=(309, 35), xlim=(0.3, 160), ylim=1.2, ystep=0.2, ymax_lab=1.0, xlab=96.7, xoff=26.5),
    dict(frame=(610, 12, 1187, 284), axes=(659, 72, 1097, 244), leg=(1109, 147, 1186, 187), title=(936, 35), xlim=(-2.5, 162.7), ylim=0.9, ystep=0.1, ymax_lab=0.9, xlab=98, xoff=27),
    dict(frame=(12, 292, 597, 563), axes=(57.5, 351, 505, 525), leg=(520, 417, 595, 459), title=(315, 317), xlim=(-0.1, 167), ylim=1.0, ystep=0.1, ymax_lab=1.0, xlab=97.2, xoff=27),
    dict(frame=(610, 293, 1187, 566), axes=(661, 355, 1101, 519), leg=(1114, 428, 1183, 470), title=(901, 320), xlim=(0.4, 181.4), ylim=1.2, ystep=0.2, ymax_lab=1.0, xlab=114.7, xoff=24),
    dict(frame=(12, 578, 597, 848), axes=(63, 637, 503, 804), leg=(516, 713, 595, 753), title=(353, 602), xlim=(-1.8, 162.8), ylim=1.2, ystep=0.2, ymax_lab=1.2, xlab=97.3, xoff=27),
    dict(frame=(610, 578, 1187, 848), axes=(655, 637, 1100, 809), leg=(1112, 704, 1183, 743), title=(906, 602), xlim=(-0.2, 176.9), ylim=1.2, ystep=0.2, ymax_lab=1.0, xlab=109.9, xoff=31),
    dict(frame=(12, 860, 597, 1130), axes=(62, 920, 501, 1086), leg=(514, 996, 593, 1035), title=(315, 883), xlim=(-0.2, 169.7), ylim=1.2, ystep=0.2, ymax_lab=1.2, xlab=109.3, xoff=32),
    dict(frame=(611, 861, 1187, 1129), axes=(662, 919, 1099, 1084), leg=(1112, 994, 1184, 1034), title=(901, 883), xlim=(0.9, 221.7), ylim=1.2, ystep=0.2, ymax_lab=1.0, xlab=158.5, xoff=27),
    dict(frame=(12, 1143, 596, 1412), axes=(65, 1201, 506, 1366), leg=(519, 1276, 591, 1316), title=(304, 1165), xlim=(0.4, 172.5), ylim=1.2, ystep=0.2, ymax_lab=1.0, xlab=126.7, xoff=25),
]

VLXT = "#1c1c86"
BFAC = "#b7b7b7"
SERIF = "Liberation Serif"
SANS = "Liberation Sans"


def rect(l, t, r, b):
    return [l / W, 1 - b / H, (r - l) / W, (b - t) / H]


def fmt(v):
    s = f"{v:.1f}"
    return s[:-2] if s.endswith(".0") else s


fig = plt.figure(figsize=(12, 14.26), dpi=100)
fig.patch.set_facecolor("white")

for i in range(9):
    lay = layout[i]
    vx, vy, bx, by = series[i]

    # marco del panel y titulo
    l, t, r, b = lay["frame"]
    fig.add_artist(Rectangle((l / W, 1 - b / H), (r - l) / W, (b - t) / H, transform=fig.transFigure,
                             fill=False, ec="#3a3a3a", lw=1.2))
    tcol = "#4a1747" if i == 0 else "black"
    fig.text(lay["title"][0] / W, 1 - lay["title"][1] / H, titles[i], ha="center", va="center",
             family=SERIF, weight="bold", fontsize=14.5, color=tcol)

    ax = fig.add_axes(rect(*lay["axes"]))
    ax.plot(bx, by, color=BFAC, lw=1.1, zorder=2)
    ax.plot(vx, vy, color=VLXT, lw=0.9, zorder=3)
    x0, x1 = lay["xlim"]
    ax.plot([x0, x1], list(thresholds[i]), color="#858585", lw=2.4, ls=(0, (7, 3.2)), zorder=4)
    ax.set_xlim(x0, x1)
    ax.set_ylim(0, lay["ylim"])

    # eje y
    ny = int(round(lay["ylim"] / lay["ystep"]))
    yt = [k * lay["ystep"] for k in range(ny + 1)]
    ax.set_yticks(yt)
    ax.set_yticklabels([fmt(v) if v <= lay["ymax_lab"] + 1e-9 else "" for v in yt])
    # eje x: una marca por residuo
    ax.xaxis.set_minor_locator(MultipleLocator(1))
    ax.xaxis.set_major_locator(FixedLocator(xtick_labels[i]))
    ax.set_xticklabels([str(v) for v in xtick_labels[i]])
    ax.tick_params(axis="x", which="both", direction="out", length=4, width=0.7, pad=10,
                   labelsize=10.5, colors="black")
    ax.tick_params(axis="y", direction="out", length=4, width=0.8, pad=4, labelsize=10.5)
    for lab in ax.get_xticklabels() + ax.get_yticklabels():
        lab.set_family(SANS)
        lab.set_color("#1a1a1a")
    for s in ("top", "right"):
        ax.spines[s].set_color("#bdbdbd")
        ax.spines[s].set_linewidth(1.0)
    for s in ("left", "bottom"):
        ax.spines[s].set_color("black")
        ax.spines[s].set_linewidth(1.0)

    ax.annotate("Location Number", xy=(lay["xlab"], 0), xycoords=("data", "axes fraction"),
                xytext=(0, -lay["xoff"] * 0.72), textcoords="offset points", ha="center", va="center",
                family=SERIF, fontsize=11.5, color="#222222", annotation_clip=False)

    for txt, tp, a0, a1 in marks[i]:
        ax.text(tp[0], tp[1], txt, ha="center", va="center", family=SERIF, fontsize=11.5, color="#222222")
        ax.annotate("", xy=a1, xytext=a0,
                    arrowprops=dict(arrowstyle="-|>", color="black", lw=0.8, mutation_scale=11,
                                    shrinkA=0, shrinkB=0))
    ax.text(letter_pos[i][0], letter_pos[i][1], letters[i], ha="center", va="center",
            family=SERIF, weight="bold", fontsize=13.5)

    # leyenda dibujada a mano
    lg = fig.add_axes(rect(*lay["leg"]))
    lg.set_xlim(0, 1)
    lg.set_ylim(0, 1)
    lg.set_xticks([])
    lg.set_yticks([])
    for s in lg.spines.values():
        s.set_color("#202020")
        s.set_linewidth(1.0)
    lg.plot([0.07, 0.37], [0.71, 0.71], color=VLXT, lw=1.0)
    lg.plot([0.07, 0.37], [0.27, 0.27], color=BFAC, lw=1.1)
    lg.text(0.38, 0.71, "vlxt", va="center", ha="left", family=SANS, fontsize=10.5)
    lg.text(0.38, 0.27, bf_names[i], va="center", ha="left", family=SANS, fontsize=10.5)

fig.savefig("out.png", dpi=100, facecolor="white")
